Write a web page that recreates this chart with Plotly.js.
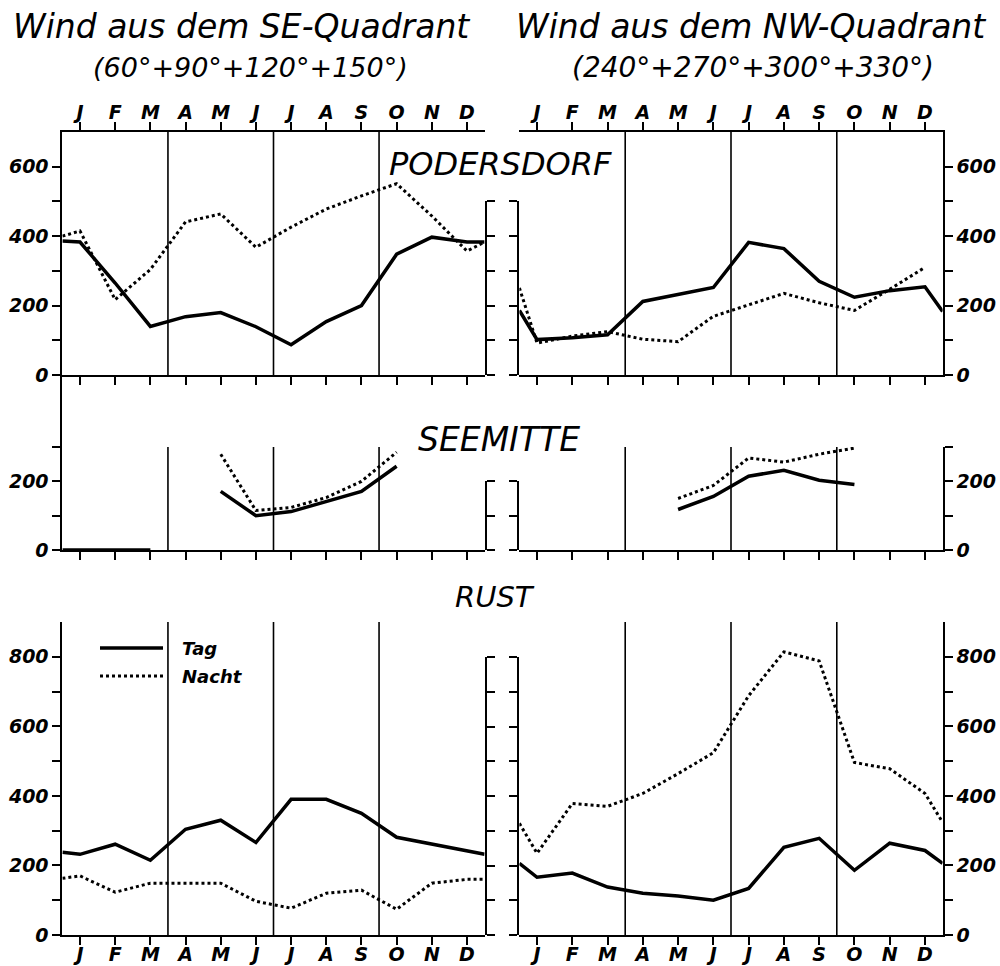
<!DOCTYPE html>
<html><head><meta charset="utf-8">
<script src="https://cdn.plot.ly/plotly-3.0.1.min.js"></script>
<style>html,body{margin:0;padding:0;background:#fff}#chart{width:1000px;height:966px}</style>
</head><body><div id="chart"></div>
<script>
// ---------- DATA ----------
const months = ['J','F','M','A','M','J','J','A','S','O','N','D'];
// Each series: value at the start edge of the year, J..D, value at the end edge
const podSE_tag   = [386,383,265,140,168,180,139, 87,154,200,348,397,383,383];
const podSE_nacht = [400,415,217,304,441,464,368,426,478,516,551,458,357,383];
const podNW_tag   = [186,102,107,116,212,232,252,382,364,270,224,243,254,183];
const podNW_nacht = [251, 92,112,125,103, 96,169,203,235,208,186,247,310,null];

const seeSE_tag   = [0,0,0,0,null,171,100,112,141,171,244,null,null,null];
const seeSE_nacht = [null,null,null,null,null,279,115,124,153,200,285,null,null,null];
const seeNW_tag   = [null,null,null,null,null,118,156,215,232,203,191,null,null,null];
const seeNW_nacht = [null,null,null,null,null,150,188,268,256,279,297,null,null,null];

const rustSE_tag   = [238,232,261,215,304,330,266,390,390,350,281,261,241,232];
const rustSE_nacht = [163,170,123,149,149,149, 97, 77,120,129, 74,149,160,160];
const rustNW_tag   = [206,166,178,138,120,112,100,134,252,278,186,264,243,206];
const rustNW_nacht = [321,235,378,370,407,464,524,688,814,788,496,478,407,324];

const yTicksPod  = [0,100,200,300,400,500,600];
const yLabelsPod = ['0','','200','','400','','600'];
const yTicksSee  = [0,100,200,300];
const yLabelsSee = ['0','','200',''];
const yTicksRust  = [0,100,200,300,400,500,600,700,800];
const yLabelsRust = ['0','','200','','400','','600','','800'];
const quarterBounds = [2.5,5.5,8.5];

// ---------- LAYOUT HELPERS ----------
const W = 1000, H = 966;
const fx = p => p / W;
const fy = p => 1 - p / H;
const FONT = 'DejaVu Sans';
const tickFont = {family: FONT, size: 19, weight: 'bold', style: 'italic', color: '#000'};
const monthIdx = months.map((m, i) => i);
const xPos = [-0.5].concat(monthIdx, [11.5]);

const C1 = [fx(62.4), fx(484.6)];
const C2 = [fx(519.4), fx(942.6)];

function xAxis(dom, anchor, extra) {
  return Object.assign({
    domain: dom, anchor: anchor, range: [-0.5, 11.5],
    tickmode: 'array', tickvals: monthIdx, ticktext: months,
    showticklabels: false, ticks: 'outside', ticklen: 8, tickwidth: 2, tickcolor: '#000',
    showline: true, linewidth: 2, linecolor: '#000', showgrid: false, zeroline: false,
    fixedrange: true, tickfont: tickFont, ticklabelstandoff: -6
  }, extra || {});
}
function yAxis(domPx, anchor, side, range, vals, labels) {
  return {
    domain: [fy(domPx[0]), fy(domPx[1])], anchor: anchor, side: side, range: range,
    tickmode: 'array', tickvals: vals, ticktext: labels || vals.map(() => ''),
    showticklabels: !!labels, ticks: 'outside', ticklen: 8, tickwidth: 2, tickcolor: '#000',
    showline: true, linewidth: 2, linecolor: '#000', showgrid: false, zeroline: false,
    fixedrange: true, tickfont: tickFont
  };
}

const layout = {
  width: W, height: H, margin: {l: 0, r: 0, t: 0, b: 0},
  paper_bgcolor: '#fff', plot_bgcolor: 'rgba(0,0,0,0)', showlegend: false,
  font: {family: FONT, color: '#000'},
  // column 1 (SE)
  xaxis:  xAxis(C1, 'y'),
  xaxis2: xAxis(C1, 'y', {overlaying: 'x', side: 'top', showticklabels: true, ticklabelstandoff: -5}),
  yaxis:  yAxis([375, 132], 'x', 'left', [0, 700], yTicksPod, yLabelsPod),
  yaxis3: yAxis([375, 201.4], 'x', 'right', [0, 500], [0,100,200,300,400,500]),
  xaxis3: xAxis(C1, 'y4'),
  yaxis4: yAxis([550, 375], 'x3', 'left', [0, 510], yTicksSee, yLabelsSee),
  yaxis5: yAxis([550, 481.4], 'x3', 'right', [0, 200], [0,100,200]),
  xaxis4: xAxis(C1, 'y6', {showticklabels: true, ticklabelstandoff: -7}),
  yaxis6: yAxis([935, 622], 'x4', 'left', [0, 900], yTicksRust, yLabelsRust),
  yaxis7: yAxis([935, 657], 'x4', 'right', [0, 800], yTicksRust),
  // column 2 (NW)
  xaxis5: xAxis(C2, 'y8'),
  xaxis6: xAxis(C2, 'y8', {overlaying: 'x5', side: 'top', showticklabels: true, ticklabelstandoff: -5}),
  yaxis8: yAxis([375, 132], 'x5', 'right', [0, 700], yTicksPod, yLabelsPod),
  yaxis9: yAxis([375, 201.4], 'x5', 'left', [0, 500], [0,100,200,300,400,500]),
  xaxis7: xAxis(C2, 'y10'),
  yaxis10: yAxis([550, 447], 'x7', 'right', [0, 300], yTicksSee, yLabelsSee),
  yaxis11: yAxis([550, 481.4], 'x7', 'left', [0, 200], [0,100,200]),
  xaxis8: xAxis(C2, 'y12', {showticklabels: true, ticklabelstandoff: -7}),
  yaxis12: yAxis([935, 622], 'x8', 'right', [0, 900], yTicksRust, yLabelsRust),
  yaxis13: yAxis([935, 657], 'x8', 'left', [0, 800], yTicksRust),
  shapes: [], annotations: []
};

// quarter separators in every panel
const panels = [['x','y',700],['x3','y4',300],['x4','y6',900],['x5','y8',700],['x7','y10',300],['x8','y12',900]];
panels.forEach(([xa, ya, top]) => {
  quarterBounds.forEach(q => layout.shapes.push({
    type: 'line', xref: xa, yref: ya, x0: q, x1: q, y0: 0, y1: top,
    line: {color: '#000', width: 1.6}
  }));
});

// legend (drawn manually)
layout.shapes.push({type:'line', xref:'paper', yref:'paper', x0:fx(100), x1:fx(163), y0:fy(648), y1:fy(648), line:{color:'#000', width:3.5}});
layout.shapes.push({type:'line', xref:'paper', yref:'paper', x0:fx(100), x1:fx(163), y0:fy(676), y1:fy(676), line:{color:'#000', width:3, dash:'dot'}});

function ann(text, x, y, size, opts) {
  return Object.assign({text: text, xref: 'paper', yref: 'paper', x: fx(x), y: fy(y),
    showarrow: false, xanchor: 'center', yanchor: 'middle',
    font: {family: FONT, size: size, style: 'italic', color: '#000'}}, opts || {});
}
const boldIt = {family: FONT, size: 18, style: 'italic', weight: 'bold', color: '#000'};
layout.annotations.push(
  ann('Wind aus dem SE-Quadrant', 241, 27, 33),
  ann('(60°+90°+120°+150°)', 250, 67, 27),
  ann('Wind aus dem NW-Quadrant', 751, 27, 33),
  ann('(240°+270°+300°+330°)', 753, 67, 28),
  ann('PODERSDORF', 500, 164, 32),
  ann('SEEMITTE', 499, 439, 33),
  ann('RUST', 495, 597, 29),
  ann('Tag', 180, 648, 18, {xanchor: 'left', font: boldIt}),
  ann('Nacht', 180, 676, 18, {xanchor: 'left', font: boldIt})
);

// ---------- TRACES ----------
const tagLine = {color: '#000', width: 3.5};
const nachtLine = {color: '#000', width: 3, dash: 'dot'};
function tr(y, xa, ya, line) {
  return {type: 'scatter', mode: 'lines', x: xPos, y: y, xaxis: xa, yaxis: ya,
          line: line, connectgaps: false, hoverinfo: 'skip'};
}
function empty(xa, ya) {
  return {type: 'scatter', mode: 'lines', x: [], y: [], xaxis: xa, yaxis: ya, hoverinfo: 'skip'};
}
const data = [
  tr(podSE_nacht, 'x', 'y', nachtLine),   tr(podSE_tag, 'x', 'y', tagLine),
  tr(seeSE_nacht, 'x3', 'y4', nachtLine), tr(seeSE_tag, 'x3', 'y4', tagLine),
  tr(rustSE_nacht, 'x4', 'y6', nachtLine), tr(rustSE_tag, 'x4', 'y6', tagLine),
  tr(podNW_nacht, 'x5', 'y8', nachtLine), tr(podNW_tag, 'x5', 'y8', tagLine),
  tr(seeNW_nacht, 'x7', 'y10', nachtLine), tr(seeNW_tag, 'x7', 'y10', tagLine),
  tr(rustNW_nacht, 'x8', 'y12', nachtLine), tr(rustNW_tag, 'x8', 'y12', tagLine),
  empty('x2','y'), empty('x','y3'), empty('x3','y5'), empty('x4','y7'),
  empty('x6','y8'), empty('x5','y9'), empty('x7','y11'), empty('x8','y13')
];

Plotly.newPlot('chart', data, layout, {staticPlot: true, displayModeBar: false});
</script>
</body></html>
